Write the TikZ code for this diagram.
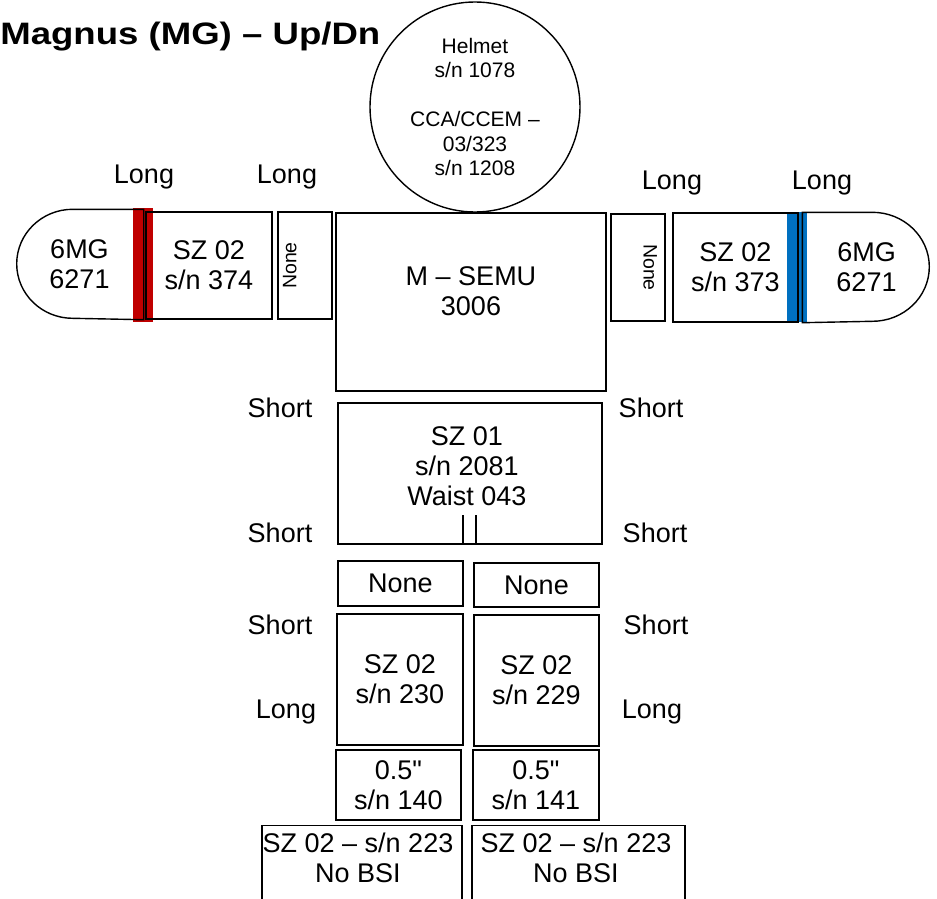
\documentclass[tikz,border=0pt]{standalone}
\usepackage{fontspec}
\setmainfont{Liberation Sans}[Ligatures=TeXOff]
\usepackage{tikz}
\usetikzlibrary{calc}
\definecolor{barred}{RGB}{192,0,0}
\definecolor{barblue}{RGB}{0,112,192}

\begin{document}
\begin{tikzpicture}[x=1pt, y=-1pt, line width=1.4pt,
  font=\fontsize{27}{30}\selectfont,
  part/.style={draw, align=center, inner sep=0pt, minimum width=#1},
  part/.default=125pt,
  txt/.style={align=center, inner sep=0pt},
  side/.style={font=\fontsize{19.5}{22}\selectfont, inner sep=0pt}]
\useasboundingbox (0,0) rectangle (937,899);
\clip (0,0) rectangle (937,899);
% title and helmet
\node[anchor=base east, inner sep=0pt, font=\bfseries\fontsize{31}{34}\selectfont] (title) at (381,45) {\scalebox{1.18}[1]{Magnus (MG) – Up/Dn}};
\node[circle, draw, minimum size=210pt, inner sep=0pt, align=center, font=\fontsize{21}{24.5}\selectfont] (helmet) at (475,107) {Helmet\\s/n 1078\\[24.5pt]CCA/CCEM –\\03/323\\s/n 1208};
% arms
\fill[barred] (133,208) rectangle (153,322);
\fill[barblue] (787,212) rectangle (807,322);
\node[txt, minimum width=127pt, minimum height=109pt] (lglove) at (79.5,264.5) {6MG\\6271};
\draw (lglove.north east) -- ++(-71,0) arc[start angle=90, end angle=270, x radius=56pt, y radius=54.5pt] -- (lglove.south east) -- cycle;
\node[part=126pt, minimum height=107pt] (lsz) at (209,265.5) {SZ 02\\s/n 374};
\node[part=107pt, minimum height=54pt, rotate=90] (lnone) at (305,265.5) {};
\node[side, rotate=90, anchor=north] at ([xshift=5pt]lnone.north) {None};
\node[part=270pt, minimum height=178pt] (semu) at (471,302) {};
\node[txt] at (471,291.5) {M – SEMU\\3006};
\node[part=107pt, minimum height=54pt, rotate=-90] (rnone) at (638,267.5) {};
\node[side, rotate=-90, anchor=north] at ([xshift=-8pt]rnone.north) {None};
\node[part=125pt, minimum height=109pt] (rsz) at (735.5,267.5) {SZ 02\\s/n 373};
\node[txt, minimum width=127pt, minimum height=109pt] (rglove) at (866.5,267.5) {6MG\\6271};
\draw (rglove.north west) -- ++(70,0) arc[start angle=90, end angle=-90, x radius=57pt, y radius=54.5pt] -- (rglove.south west) -- cycle;
\node[txt] (long1) at (144,177) {Long};
\node[txt] (long2) at (287,177) {Long};
\node[txt] (long3) at (672,183) {Long};
\node[txt] (long4) at (822,183) {Long};
% body
\node[part=264pt, minimum height=141pt] (sz01) at (470,473.5) {};
\node[txt] at (467,466) {SZ 01\\s/n 2081\\Waist 043};
\draw ([xshift=-7pt]sz01.south) -- ++(0,-30) ([xshift=6pt]sz01.south) -- ++(0,-30);
\node[txt] (short1) at (280,408) {Short};
\node[txt] (short2) at (651,408) {Short};
\node[txt] (short3) at (280,533) {Short};
\node[txt] (short4) at (655,533) {Short};
% legs
\node[part, minimum height=45pt] (lnone2) at (400.5,583.5) {None};
\node[part, minimum height=44pt] (rnone2) at (536.5,585) {None};
\node[part=126pt, minimum height=131pt] (lleg) at (400,679.5) {SZ 02\\s/n 230};
\node[part, minimum height=131pt] (rleg) at (536.5,680.5) {SZ 02\\s/n 229};
\node[txt] (short5) at (280,625) {Short};
\node[txt] (short6) at (656,625) {Short};
\node[txt] (long5) at (286,712) {Long};
\node[txt] (long6) at (652,712) {Long};
\node[part, minimum height=70pt] (lhalf) at (398.5,785) {0.5"\\s/n 140};
\node[part=126pt, minimum height=70pt] (rhalf) at (536,785) {0.5"\\s/n 141};
\node[part=200pt, minimum height=100pt, anchor=north] (lboot) at (362,825) {};
\node[txt] at (358,858) {SZ 02 – s/n 223\\No BSI};
\node[part=213pt, minimum height=100pt, anchor=north] (rboot) at (578.5,825) {};
\node[txt] at (576,858) {SZ 02 – s/n 223\\No BSI};
\end{tikzpicture}
\end{document}
